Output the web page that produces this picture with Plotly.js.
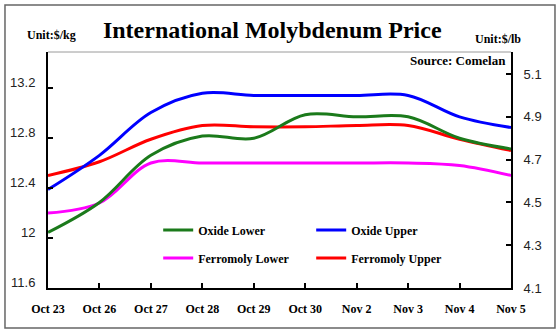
<!DOCTYPE html>
<html>
<head>
<meta charset="utf-8">
<script src="https://cdn.plot.ly/plotly-3.0.1.min.js"></script>
<style>
html,body{margin:0;padding:0;background:#fff;}
#chart{width:559px;height:334px;}
</style>
</head>
<body>
<div id="chart"></div>
<script>
// Category labels (trading days)
const dates = ["Oct 23","Oct 26","Oct 27","Oct 28","Oct 29","Oct 30","Nov 2","Nov 3","Nov 4","Nov 5"];
// Oxide prices, $/lb (right axis)
const oxideLower = [4.36, 4.50, 4.72, 4.81, 4.80, 4.91, 4.90, 4.90, 4.80, 4.75];
const oxideUpper = [4.56, 4.72, 4.92, 5.01, 5.00, 5.00, 5.00, 5.00, 4.90, 4.85];
// Ferromoly prices, $/kg (left axis)
const ferroLower = [12.20, 12.28, 12.60, 12.60, 12.60, 12.60, 12.60, 12.60, 12.58, 12.50];
const ferroUpper = [12.50, 12.61, 12.79, 12.90, 12.89, 12.89, 12.90, 12.90, 12.79, 12.70];
// Tick values
const leftTicks = [11.6, 12.0, 12.4, 12.8, 13.2];
const rightTicks = [4.1, 4.3, 4.5, 4.7, 4.9, 5.1];

const serif = "Liberation Serif, Times New Roman, serif";
const sans = "Liberation Sans, Arial, sans-serif";

function line(name, x, y, color, yaxis, legend){
  return {type:"scatter", mode:"lines", name:name, x:x, y:y, yaxis:yaxis, legend:legend,
    line:{color:color, width:3, shape:"spline", smoothing:1}, hoverinfo:"x+y+name"};
}

const traces = [
  line("Oxide Lower", dates, oxideLower, "#1b7a1b", "y2", "legend"),
  line("Oxide Upper", dates, oxideUpper, "#0000ff", "y2", "legend"),
  line("Ferromoly Lower", dates, ferroLower, "#ff00ff", "y", "legend2"),
  line("Ferromoly Upper", dates, ferroUpper, "#ff0000", "y", "legend2")
];

const legendCommon = {orientation:"h", xanchor:"left", yanchor:"middle", x:0.238,
  entrywidth:108, entrywidthmode:"pixels", itemwidth:30, bgcolor:"rgba(0,0,0,0)",
  borderwidth:0, traceorder:"normal",
  font:{family:serif, size:12, color:"#000", weight:"bold"}};

const layout = {
  width:559, height:334,
  margin:{l:48, r:48, t:52, b:46, pad:0},
  paper_bgcolor:"#fff", plot_bgcolor:"#fff",
  title:{text:"International Molybdenum Price", font:{family:serif, size:24, color:"#000", weight:"bold"},
    xref:"container", yref:"container", x:0.487, xanchor:"center", y:0.91, yanchor:"middle"},
  showlegend:true,
  legend:Object.assign({}, legendCommon, {y:0.246}),
  legend2:Object.assign({}, legendCommon, {y:0.127}),
  xaxis:{type:"category", range:[0, dates.length-1], showgrid:false, zeroline:false,
    showline:true, linecolor:"#000", linewidth:2, ticks:"inside", ticklen:5, tickwidth:2, tickcolor:"#000",
    tickfont:{family:serif, size:12, color:"#000", weight:"bold"}, ticklabelstandoff:9, fixedrange:true},
  yaxis:{range:[11.6, 13.488], tickvals:leftTicks, ticktext:leftTicks.map(v=>String(v)),
    showgrid:false, zeroline:false, showline:true, linecolor:"#000", linewidth:2,
    ticks:"inside", ticklen:5, tickwidth:2, tickcolor:"#000",
    tickfont:{family:sans, size:13, color:"#222"}, ticklabelstandoff:8, ticklabelshift:-6, fixedrange:true},
  yaxis2:{overlaying:"y", side:"right", range:[4.1, 5.203], tickvals:rightTicks,
    ticktext:rightTicks.map(v=>v.toFixed(1)),
    showgrid:false, zeroline:false, showline:true, linecolor:"#000", linewidth:2,
    ticks:"inside", ticklen:5, tickwidth:2, tickcolor:"#000",
    tickfont:{family:sans, size:13, color:"#222"}, ticklabelstandoff:8, fixedrange:true},
  shapes:[
    {type:"line", xref:"paper", yref:"paper", x0:0, x1:1, y0:1, y1:1, line:{color:"#9a9a9a", width:1}},
    {type:"rect", xref:"paper", yref:"paper", x0:-0.0929, x1:1.095, y0:-0.1695, y1:1.199,
      line:{color:"#666", width:1.5}, fillcolor:"rgba(0,0,0,0)", layer:"below"}
  ],
  annotations:[
    {text:"Unit:$/kg", xref:"paper", yref:"paper", x:0.0065, y:1.072, xanchor:"center", yanchor:"middle",
      showarrow:false, font:{family:serif, size:12, color:"#000", weight:"bold"}},
    {text:"Unit:$/lb", xref:"paper", yref:"paper", x:0.972, y:1.055, xanchor:"center", yanchor:"middle",
      showarrow:false, font:{family:serif, size:12, color:"#000", weight:"bold"}},
    {text:"Source: Comelan", xref:"paper", yref:"paper", x:0.9935, y:0.962, xanchor:"right", yanchor:"middle",
      showarrow:false, font:{family:serif, size:13, color:"#000", weight:"bold"}}
  ]
};

Plotly.newPlot("chart", traces, layout, {displayModeBar:false, staticPlot:true});
</script>
</body>
</html>
